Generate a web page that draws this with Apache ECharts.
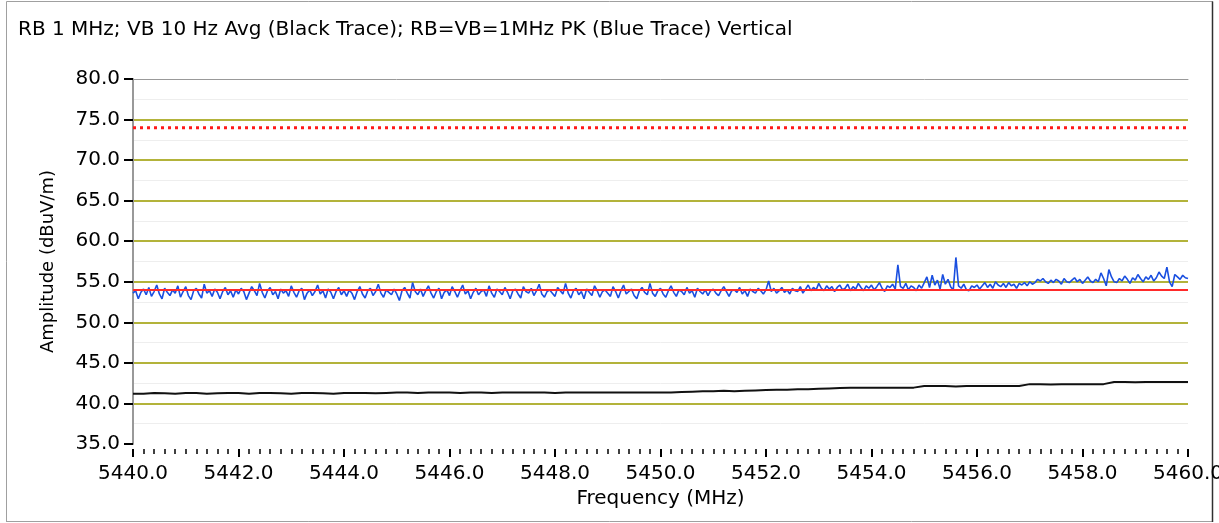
<!DOCTYPE html>
<html>
<head>
<meta charset="utf-8">
<script src="https://cdn.jsdelivr.net/npm/echarts@6/dist/echarts.min.js"></script>
<style>
html,body{margin:0;padding:0;background:#fff;}
#chart{width:1219px;height:523px;}
</style>
</head>
<body>
<div id="chart"></div>
<script>
// ---- data ----
const titleText = 'RB 1 MHz; VB 10 Hz Avg (Black Trace); RB=VB=1MHz PK (Blue Trace) Vertical';
const xName = 'Frequency (MHz)';
const yName = 'Amplitude (dBuV/m)';
const freqMin = 5440, freqMax = 5460;
const ampMin = 35, ampMax = 80;
const limitAvg = 54;   // red solid line
const limitPeak = 74;  // red dotted line

// blue trace (peak), 0.05 MHz spacing starting at 5440.0
const blueStart = 5440, blueStep = 0.05;
const blueTrace = [
 53.6,53.9,52.9,53.7,54.1,53.4,54.3,53.2,53.8,54.6,53.5,52.9,54.2,53.7,53.3,54.0,53.6,54.5,53.1,53.8,
 54.4,53.3,52.8,53.9,54.2,53.5,53.0,54.7,53.6,53.9,53.2,54.1,53.7,52.9,53.8,54.3,53.4,53.9,53.1,54.0,
 53.5,54.2,53.8,52.8,53.6,54.4,53.9,53.3,54.8,53.7,53.0,53.9,54.3,53.4,53.8,52.9,54.1,53.6,53.9,53.2,
 54.5,53.7,53.1,53.9,54.2,52.8,53.6,54.0,53.3,53.8,54.6,53.5,53.9,53.0,54.1,53.7,52.9,53.8,54.3,53.4,
 53.9,53.2,54.0,53.6,52.8,53.8,54.4,53.5,53.0,53.9,54.2,53.3,53.8,54.7,53.6,53.1,54.0,53.7,53.4,54.1,
 53.5,52.7,53.9,54.3,53.6,53.0,54.9,53.8,53.4,54.1,53.2,53.9,54.5,53.6,53.0,53.8,54.2,52.9,53.7,54.0,
 53.3,54.4,53.8,53.1,53.9,54.6,53.5,53.9,52.9,53.7,54.2,53.4,53.8,54.0,53.2,54.5,53.6,53.1,54.1,53.8,
 53.4,54.3,53.7,52.9,53.9,54.1,53.5,53.0,54.4,53.8,53.6,54.2,53.3,53.9,54.7,53.5,53.1,53.8,54.0,53.6,
 53.2,54.3,53.9,53.5,54.8,53.6,53.0,53.9,54.2,53.4,53.8,52.9,54.1,53.7,53.3,54.5,53.9,53.1,53.8,54.0,
 53.6,53.2,54.4,53.8,53.0,53.9,54.6,53.5,53.8,54.1,53.3,52.9,53.9,54.3,53.7,53.4,54.8,53.6,53.2,53.9,
 54.2,53.5,53.1,53.9,54.5,53.7,53.2,54.0,53.8,53.4,54.3,53.6,53.9,53.1,54.2,53.8,53.5,54.0,53.3,53.9,
 54.1,53.6,53.3,53.9,54.4,53.8,53.2,53.9,54.0,53.7,54.3,53.5,53.9,53.2,54.1,53.8,53.6,54.2,53.9,53.5,
 54.0,55.1,53.8,54.2,53.6,53.9,54.3,53.7,54.0,53.5,54.2,53.9,53.8,54.4,53.6,54.1,54.6,53.9,54.3,54.0,
 54.8,54.2,53.9,54.5,54.1,54.4,53.8,54.3,54.6,54.0,54.2,54.7,53.9,54.4,54.1,54.8,54.3,53.9,54.5,54.2,
 54.6,54.0,54.4,54.9,54.2,53.8,54.5,54.3,54.7,54.1,57.1,54.4,54.2,54.8,54.0,54.5,54.3,53.9,54.6,54.2,
 54.9,55.6,54.3,55.8,54.6,55.2,54.1,55.9,54.7,55.3,54.4,54.0,58.0,54.5,54.2,54.7,54.0,53.9,54.5,54.3,
 54.6,54.1,54.5,54.9,54.3,54.7,54.2,55.0,54.6,54.4,54.8,54.3,54.9,54.5,54.7,54.2,54.8,54.6,54.9,54.5,
 55.0,54.7,54.9,55.3,55.1,55.4,55.0,54.8,55.2,54.9,55.3,55.1,54.7,55.4,55.0,54.9,55.2,55.5,55.0,55.3,
 54.8,55.2,55.6,55.1,54.9,55.3,55.0,56.1,55.4,54.5,56.5,55.6,55.0,54.9,55.4,55.1,55.7,55.3,54.8,55.5,
 55.2,55.9,55.4,55.0,55.6,55.3,55.8,55.1,55.5,56.2,55.7,55.4,56.8,55.0,54.4,55.9,55.6,55.3,55.8,55.5,
 55.4
];

// black trace (average), 0.2 MHz spacing starting at 5440.0
const blackStart = 5440, blackStep = 0.2;
const blackTrace = [
 41.2,41.2,41.3,41.25,41.2,41.3,41.3,41.2,41.25,41.3,
 41.3,41.2,41.3,41.3,41.25,41.2,41.3,41.3,41.25,41.2,
 41.3,41.3,41.3,41.25,41.3,41.35,41.35,41.3,41.35,41.35,
 41.35,41.3,41.35,41.35,41.3,41.35,41.35,41.35,41.35,41.35,
 41.3,41.35,41.35,41.35,41.35,41.35,41.35,41.35,41.35,41.35,
 41.35,41.35,41.4,41.45,41.5,41.5,41.55,41.5,41.55,41.6,
 41.65,41.7,41.7,41.75,41.75,41.8,41.85,41.9,41.95,41.95,
 41.95,41.95,41.95,41.95,41.95,42.15,42.15,42.15,42.1,42.15,
 42.15,42.15,42.15,42.15,42.15,42.38,42.38,42.35,42.38,42.38,
 42.38,42.38,42.38,42.65,42.65,42.6,42.65,42.65,42.65,42.65,
 42.65
];

// ---- build ----
const bluePts = blueTrace.map((v, i) => [+(blueStart + i * blueStep).toFixed(2), v]);
const blackPts = blackTrace.map((v, i) => [+(blackStart + i * blackStep).toFixed(2), v]);

const FONT = 'DejaVu Sans';
const olive = '#b3b33a';
// colors for split lines at 35,40,...,80
const splitColors = ['rgba(0,0,0,0)', olive, olive, olive, olive, olive, olive, olive, olive, 'rgba(0,0,0,0)'];

const chart = echarts.init(document.getElementById('chart'), null, {renderer: 'canvas'});
chart.setOption({
  animation: false,
  backgroundColor: '#fff',
  title: {
    text: titleText, left: 13, top: 15,
    textStyle: {fontFamily: FONT, fontSize: 20, fontWeight: 'normal', color: '#000'}
  },
  grid: {left: 133, right: 31, top: 79, bottom: 79, containLabel: false, outerBoundsMode: 'none'},
  xAxis: [{
    type: 'value', min: freqMin, max: freqMax, interval: 2,
    offset: 5,
    name: xName, nameLocation: 'middle', nameGap: 40,
    nameTextStyle: {fontFamily: FONT, fontSize: 20, color: '#000'},
    axisLine: {show: false},
    axisTick: {show: true, length: 8, lineStyle: {color: '#000', width: 2}},
    minorTick: {show: true, splitNumber: 10, length: 5, lineStyle: {color: '#000', width: 1.5}},
    axisLabel: {fontFamily: FONT, fontSize: 20, color: '#000', margin: 15,
      formatter: v => v.toFixed(1)},
    splitLine: {show: false}
  }, {
    type: 'value', min: freqMin, max: freqMax, position: 'top',
    axisLine: {show: true, lineStyle: {color: '#999', width: 1}},
    axisTick: {show: false}, axisLabel: {show: false}, splitLine: {show: false}
  }],
  yAxis: {
    type: 'value', min: ampMin, max: ampMax, interval: 5,
    name: yName, nameLocation: 'middle', nameGap: 76, nameRotate: 90,
    nameTextStyle: {fontFamily: FONT, fontSize: 18, color: '#000'},
    axisLine: {show: true, lineStyle: {color: '#999', width: 2}},
    axisTick: {show: true, length: 9, lineStyle: {color: '#000', width: 2}},
    axisLabel: {fontFamily: FONT, fontSize: 20, color: '#000', margin: 13,
      formatter: v => v.toFixed(1)},
    splitLine: {show: true, lineStyle: {color: splitColors, width: 2}},
    minorTick: {show: false, splitNumber: 2},
    minorSplitLine: {show: true, lineStyle: {color: '#eeeeee', width: 1}}
  },
  graphic: [
    {type: 'line', shape: {x1: 6.5, y1: 1.5, x2: 6.5, y2: 522}, style: {stroke: '#a0a0a0', lineWidth: 1}},
    {type: 'line', shape: {x1: 6.5, y1: 1.5, x2: 1213, y2: 1.5}, style: {stroke: '#a0a0a0', lineWidth: 1}},
    {type: 'line', shape: {x1: 6.5, y1: 521.5, x2: 1213, y2: 521.5}, style: {stroke: '#a0a0a0', lineWidth: 1}},
    {type: 'line', shape: {x1: 1212.5, y1: 1.5, x2: 1212.5, y2: 522}, style: {stroke: '#303030', lineWidth: 1.5}}
  ],
  series: [
    {
      name: 'Peak limit', type: 'line', symbol: 'none', silent: true,
      data: [[freqMin, limitPeak], [freqMax, limitPeak]],
      lineStyle: {color: '#ff1a1a', width: 3, type: [3, 4]}
    },
    {
      name: 'Black', type: 'line', symbol: 'none', silent: true,
      data: blackPts,
      lineStyle: {color: '#111', width: 2}
    },
    {
      name: 'Blue', type: 'line', symbol: 'none', silent: true,
      data: bluePts,
      lineStyle: {color: '#1a4fe0', width: 1.6}
    },
    {
      name: 'Avg limit', type: 'line', symbol: 'none', silent: true,
      data: [[freqMin, limitAvg], [freqMax, limitAvg]],
      lineStyle: {color: '#ff2a2a', width: 2}
    }
  ]
});
</script>
</body>
</html>
